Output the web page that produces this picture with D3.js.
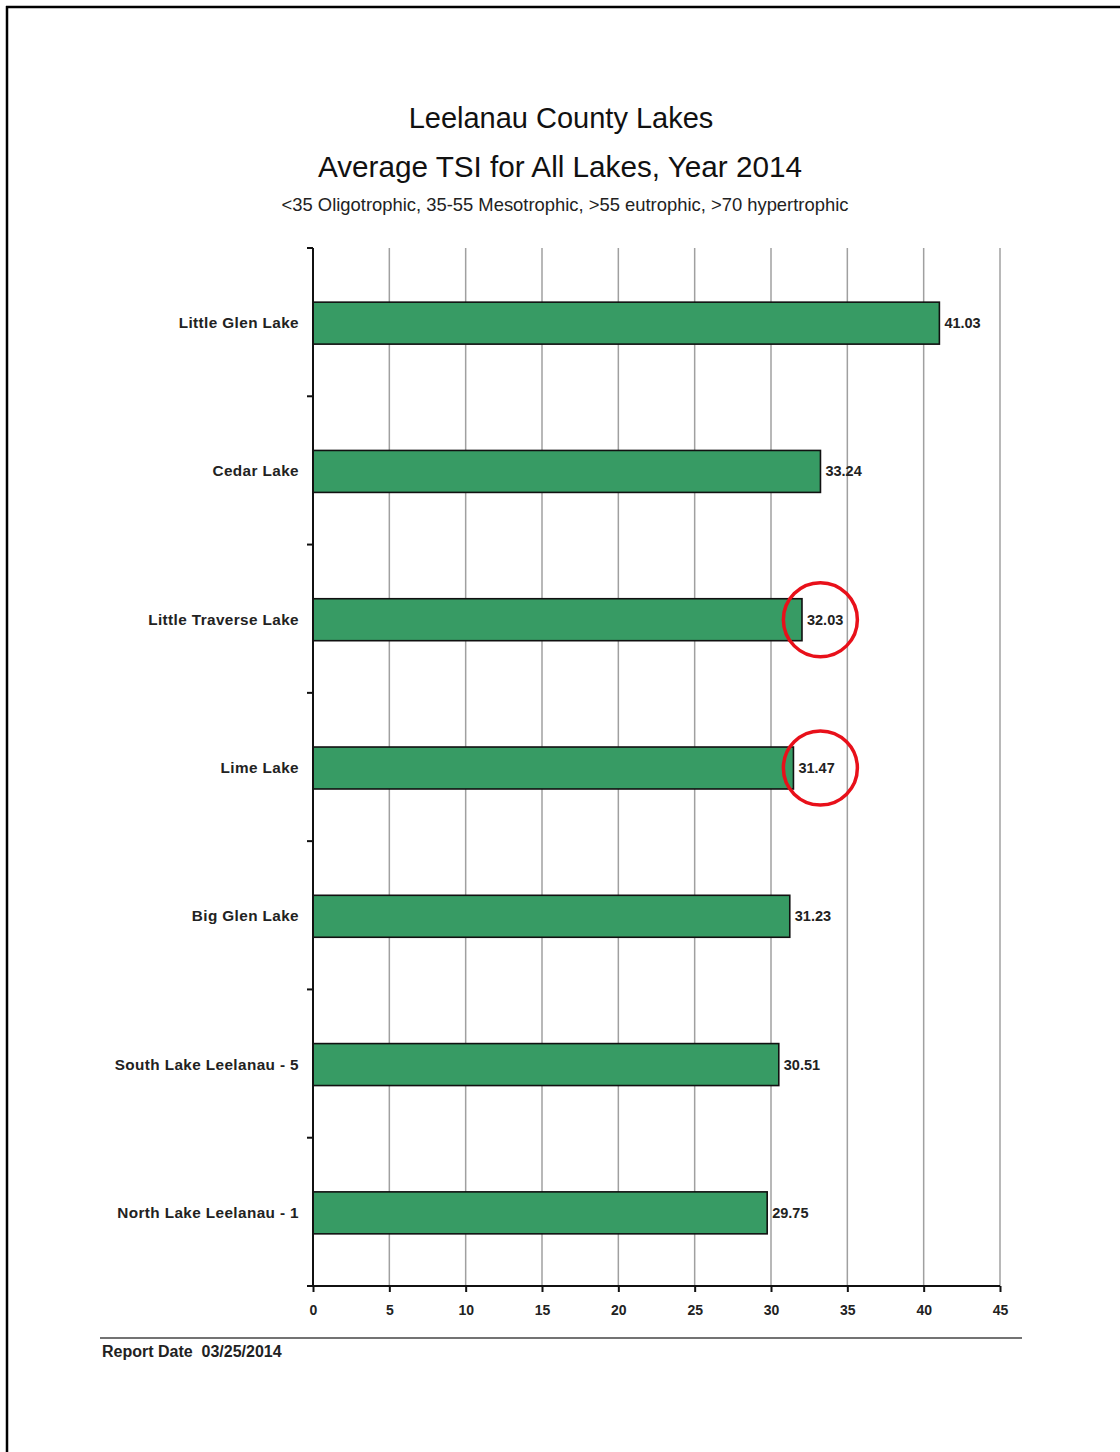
<!DOCTYPE html>
<html>
<head>
<meta charset="utf-8">
<script src="https://cdn.jsdelivr.net/npm/d3@7"></script>
<style>
  html, body { margin: 0; padding: 0; background: #fff; }
  svg { display: block; }
  text { font-family: "Liberation Sans", Arial, sans-serif; }
</style>
</head>
<body>
<svg id="chart" width="1120" height="1452"></svg>
<script>
const lakes = ["Little Glen Lake", "Cedar Lake", "Little Traverse Lake", "Lime Lake", "Big Glen Lake", "South Lake Leelanau - 5", "North Lake Leelanau - 1"];
const tsi = [41.03, 33.24, 32.03, 31.47, 31.23, 30.51, 29.75];
const xTicks = [0, 5, 10, 15, 20, 25, 30, 35, 40, 45];
const circledLakes = ["Little Traverse Lake", "Lime Lake"];
const circleValue = 33.3;
const titleLines = ["Leelanau County Lakes", "Average TSI for All Lakes, Year 2014"];
const subtitle = "<35 Oligotrophic, 35-55 Mesotrophic, >55 eutrophic, >70 hypertrophic";
const footer = "Report Date  03/25/2014";

(function () {
const svg = d3.select("#chart");
const pL = 313, pR = 1000, pT = 248, pB = 1286;

// page border (top and left)
svg.append("line").attr("x1", 6).attr("x2", 1120).attr("y1", 7).attr("y2", 7).attr("stroke", "#000").attr("stroke-width", 2.5);
svg.append("line").attr("x1", 7).attr("x2", 7).attr("y1", 6).attr("y2", 1452).attr("stroke", "#000").attr("stroke-width", 2.5);

const x = d3.scaleLinear().domain([0, 45]).range([pL, pR]);
const y = d3.scaleBand().domain(lakes).range([pT, pB]).paddingInner(0.717).paddingOuter(0.3585);

// titles
svg.append("text").attr("x", 561).attr("y", 128).attr("text-anchor", "middle").attr("font-size", 29).attr("fill", "#111").text(titleLines[0]);
svg.append("text").attr("x", 560).attr("y", 177).attr("text-anchor", "middle").attr("font-size", 29.7).attr("fill", "#111").text(titleLines[1]);
svg.append("text").attr("x", 565).attr("y", 211).attr("text-anchor", "middle").attr("font-size", 18.4).attr("fill", "#222").text(subtitle);

// vertical gridlines
svg.append("g").selectAll("line").data(xTicks.filter(d => d > 0)).join("line")
  .attr("x1", d => x(d)).attr("x2", d => x(d)).attr("y1", pT).attr("y2", pB)
  .attr("stroke", "#a0a0a0").attr("stroke-width", 1.5);

// bars
svg.append("g").selectAll("rect").data(lakes).join("rect")
  .attr("x", x(0)).attr("y", d => y(d) + 1)
  .attr("width", (d, i) => x(tsi[i]) - x(0)).attr("height", y.bandwidth())
  .attr("fill", "#379b64").attr("stroke", "#111").attr("stroke-width", 1.6);

// value labels
svg.append("g").selectAll("text").data(lakes).join("text")
  .attr("x", (d, i) => x(tsi[i]) + 5).attr("y", d => y(d) + y.bandwidth() / 2 + 6)
  .attr("font-size", 14.5).attr("font-weight", "bold").attr("fill", "#222")
  .text((d, i) => tsi[i].toFixed(2));

// category labels
svg.append("g").selectAll("text").data(lakes).join("text")
  .attr("x", 299).attr("y", d => y(d) + y.bandwidth() / 2 + 6)
  .attr("text-anchor", "end").attr("font-size", 15.3).attr("letter-spacing", 0.4)
  .attr("font-weight", "bold").attr("fill", "#222")
  .text(d => d);

// y axis with category-boundary ticks
const boundaries = d3.range(lakes.length + 1).map(i => pT + i * (pB - pT) / lakes.length);
svg.append("line").attr("x1", pL).attr("x2", pL).attr("y1", pT).attr("y2", pB).attr("stroke", "#111").attr("stroke-width", 2);
svg.append("g").selectAll("line").data(boundaries).join("line")
  .attr("x1", pL - 6).attr("x2", pL).attr("y1", d => d).attr("y2", d => d)
  .attr("stroke", "#111").attr("stroke-width", 2);

// x axis
const xAxis = svg.append("g").attr("transform", `translate(0,${pB})`)
  .call(d3.axisBottom(x).tickValues(xTicks).tickSize(6).tickSizeOuter(0));
xAxis.select(".domain").attr("stroke", "#111").attr("stroke-width", 2).attr("d", `M${pL - 6},0H${pR}`);
xAxis.selectAll(".tick line").attr("stroke", "#111").attr("stroke-width", 2);
xAxis.selectAll(".tick text").attr("font-size", 14).attr("font-weight", "bold").attr("fill", "#222")
  .attr("font-family", "'Liberation Sans', Arial, sans-serif").attr("dy", "1.45em");

// red annotation circles
svg.append("g").selectAll("circle").data(circledLakes).join("circle")
  .attr("cx", x(circleValue) - 1).attr("cy", d => y(d) + y.bandwidth() / 2 + 1)
  .attr("r", 37).attr("fill", "none").attr("stroke", "#e8101a").attr("stroke-width", 3.5);

// footer
svg.append("line").attr("x1", 100).attr("x2", 1022).attr("y1", 1338).attr("y2", 1338).attr("stroke", "#444").attr("stroke-width", 1.5);
svg.append("text").attr("x", 102).attr("y", 1357).attr("font-size", 16).attr("font-weight", "bold").attr("fill", "#222")
  .style("white-space", "pre").text(footer);
})();
</script>
</body>
</html>
